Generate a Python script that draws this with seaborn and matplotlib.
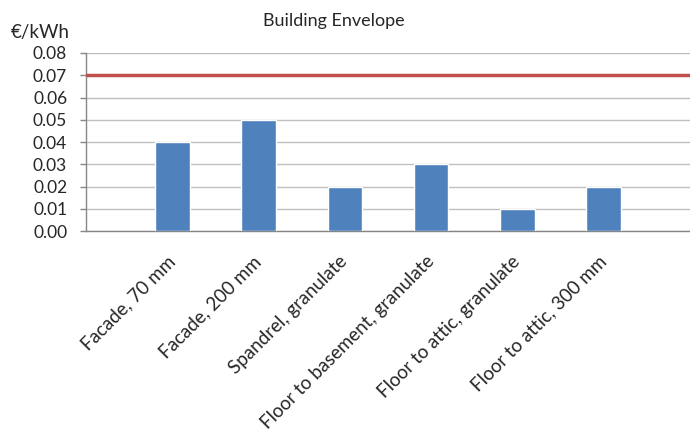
import matplotlib
matplotlib.use("Agg")
import matplotlib.pyplot as plt
import seaborn as sns
import pandas as pd

# data
categories = ["Facade, 70 mm", "Facade, 200 mm", "Spandrel, granulate",
              "Floor to basement, granulate", "Floor to attic, granulate",
              "Floor to attic, 300 mm"]
costs = [0.04, 0.05, 0.02, 0.03, 0.01, 0.02]
limit = 0.07
y_ticks = [0.00, 0.01, 0.02, 0.03, 0.04, 0.05, 0.06, 0.07, 0.08]

sns.set_style("white")
plt.rcParams['font.family'] = ['Lato', 'DejaVu Sans']

df = pd.DataFrame({'category': categories, 'cost': costs})

fig = plt.figure(figsize=(6.9, 4.33), dpi=100)
ax = fig.add_axes([0.1246, 0.4665, 0.8754, 0.4111])

sns.barplot(data=df, x='category', y='cost', color='#4F81BD', width=0.4,
            saturation=1, ax=ax, zorder=3)
ax.axhline(limit, color='#C0504D', lw=2.5, zorder=4)

ax.set_xlim(-1, 6)
ax.set_ylim(0, 0.08)
ax.set_yticks(y_ticks)
ax.set_yticklabels([f"{v:.2f}" for v in y_ticks], fontsize=12.5)
ax.yaxis.grid(True, color='#BFBFBF', lw=1, zorder=0)
ax.set_axisbelow(True)
ax.set_xlabel('')
ax.set_ylabel('')

ax.set_xticks(range(len(categories)))
ax.set_xticklabels(categories, rotation=45, ha='right', va='center',
                   rotation_mode='anchor', fontsize=13.5)
ax.tick_params(axis='x', length=0, pad=20)
ax.tick_params(axis='y', length=4.5, width=1, color='#868686', pad=9, left=True)

for side in ['top', 'right']:
    ax.spines[side].set_visible(False)
for side in ['left', 'bottom']:
    ax.spines[side].set_color('#868686')
    ax.spines[side].set_linewidth(1)

fig.text(0.484, 0.951, 'Building Envelope', ha='center', va='center', fontsize=13)
fig.text(0.015, 0.926, '€/kWh', ha='left', va='center', fontsize=13.5)

fig.savefig('out.png', dpi=100)
